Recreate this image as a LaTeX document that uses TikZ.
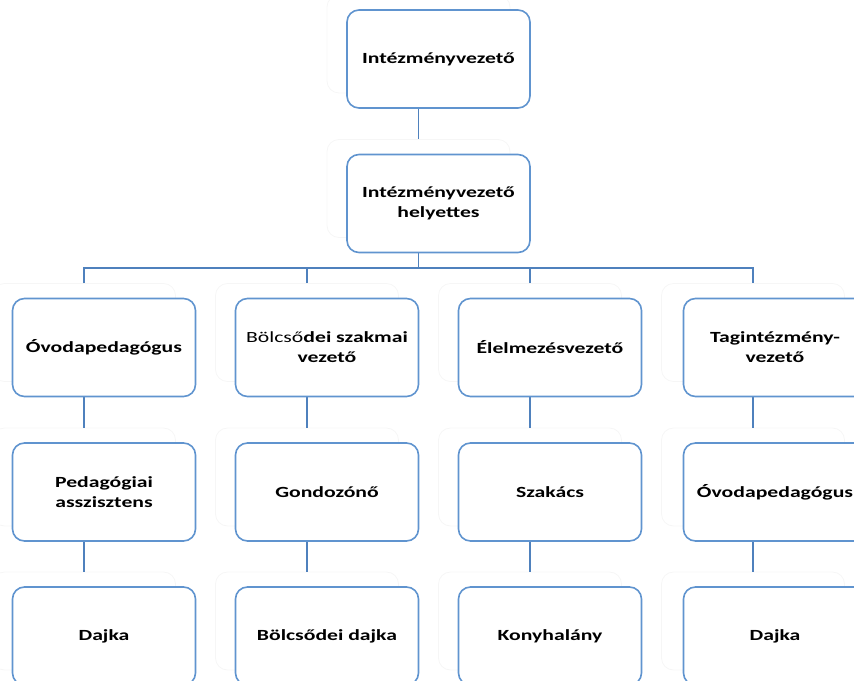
\documentclass[tikz,border=0pt]{standalone}
\usepackage{fontspec}
\setmainfont{Carlito}
\newfontfamily\boxfont{Carlito}[FakeStretch=1.4]
\usetikzlibrary{positioning}
\definecolor{boxblue}{RGB}{96,148,207}
\definecolor{lineblue}{RGB}{79,129,189}
\tikzset{
  x=1pt, y=-1pt,
  box/.style={draw=boxblue, line width=1.6pt, fill=white, rounded corners=12pt,
    minimum width=183pt, minimum height=98pt, align=center,
    font=\boxfont\bfseries\fontsize{15.5}{20}\selectfont},
  ghost/.style={draw=gray!7, line width=0.8pt, rounded corners=12pt,
    minimum width=183pt, minimum height=98pt},
  conn/.style={draw=lineblue, line width=1.6pt},
}
\begin{document}
\begin{tikzpicture}
  \clip (0,0) rectangle (854,680);

  % faint copies behind the boxes
  \node[ghost] (topg) at (418.5,44)  {};
  \node[ghost] (depg) at (418.5,188.5) {};
  \node[ghost] (o1g)  at (84,332.5)  {};
  \node[ghost] (o2g)  at (307,332.5) {};
  \node[ghost] (o3g)  at (530,332.5) {};
  \node[ghost] (o4g)  at (753,332.5) {};
  \node[ghost] (a1g)  at (84,477)    {};
  \node[ghost] (a2g)  at (307,477)   {};
  \node[ghost] (a3g)  at (530,477)   {};
  \node[ghost] (a4g)  at (753,477)   {};
  \node[ghost] (d1g)  at (84,621)    {};
  \node[ghost] (d2g)  at (307,621)   {};
  \node[ghost] (d3g)  at (530,621)   {};
  \node[ghost] (d4g)  at (753,621)   {};
  \coordinate (bus) at (418.5,268);

  \draw[conn] (topg.south) -- (depg.north);
  \draw[conn] (depg.south) -- (bus);
  \draw[conn] (o1g.north) |- (bus) -| (o4g.north);
  \draw[conn] (o2g.north) |- (bus);
  \draw[conn] (o3g.north) |- (bus);
  \draw[conn] (o1g) -- (a1g) -- (d1g);
  \draw[conn] (o2g) -- (a2g) -- (d2g);
  \draw[conn] (o3g) -- (a3g) -- (d3g);
  \draw[conn] (o4g) -- (a4g) -- (d4g);

  \node[box] (top) at (438.5,59)    {Intézményvezető};
  \node[box] (dep) at (438.5,203.5) {Intézményvezető\\helyettes};
  \node[box] (o1)  at (104,347.5)   {Óvodapedagógus};
  \node[box] (o2)  at (327,347.5)   {{\mdseries Bölcső}dei szakmai\\vezető};
  \node[box] (o3)  at (550,347.5)   {Élelmezésvezető};
  \node[box] (o4)  at (775,347.5)   {Tagintézmény-\\vezető};
  \node[box] (a1)  at (104,492)     {Pedagógiai\\asszisztens};
  \node[box] (a2)  at (327,492)     {Gondozónő};
  \node[box] (a3)  at (550,492)     {Szakács};
  \node[box] (a4)  at (775,492)     {Óvodapedagógus};
  \node[box] (d1)  at (104,636)     {Dajka};
  \node[box] (d2)  at (327,636)     {Bölcsődei dajka};
  \node[box] (d3)  at (550,636)     {Konyhalány};
  \node[box] (d4)  at (775,636)     {Dajka};
\end{tikzpicture}
\end{document}
